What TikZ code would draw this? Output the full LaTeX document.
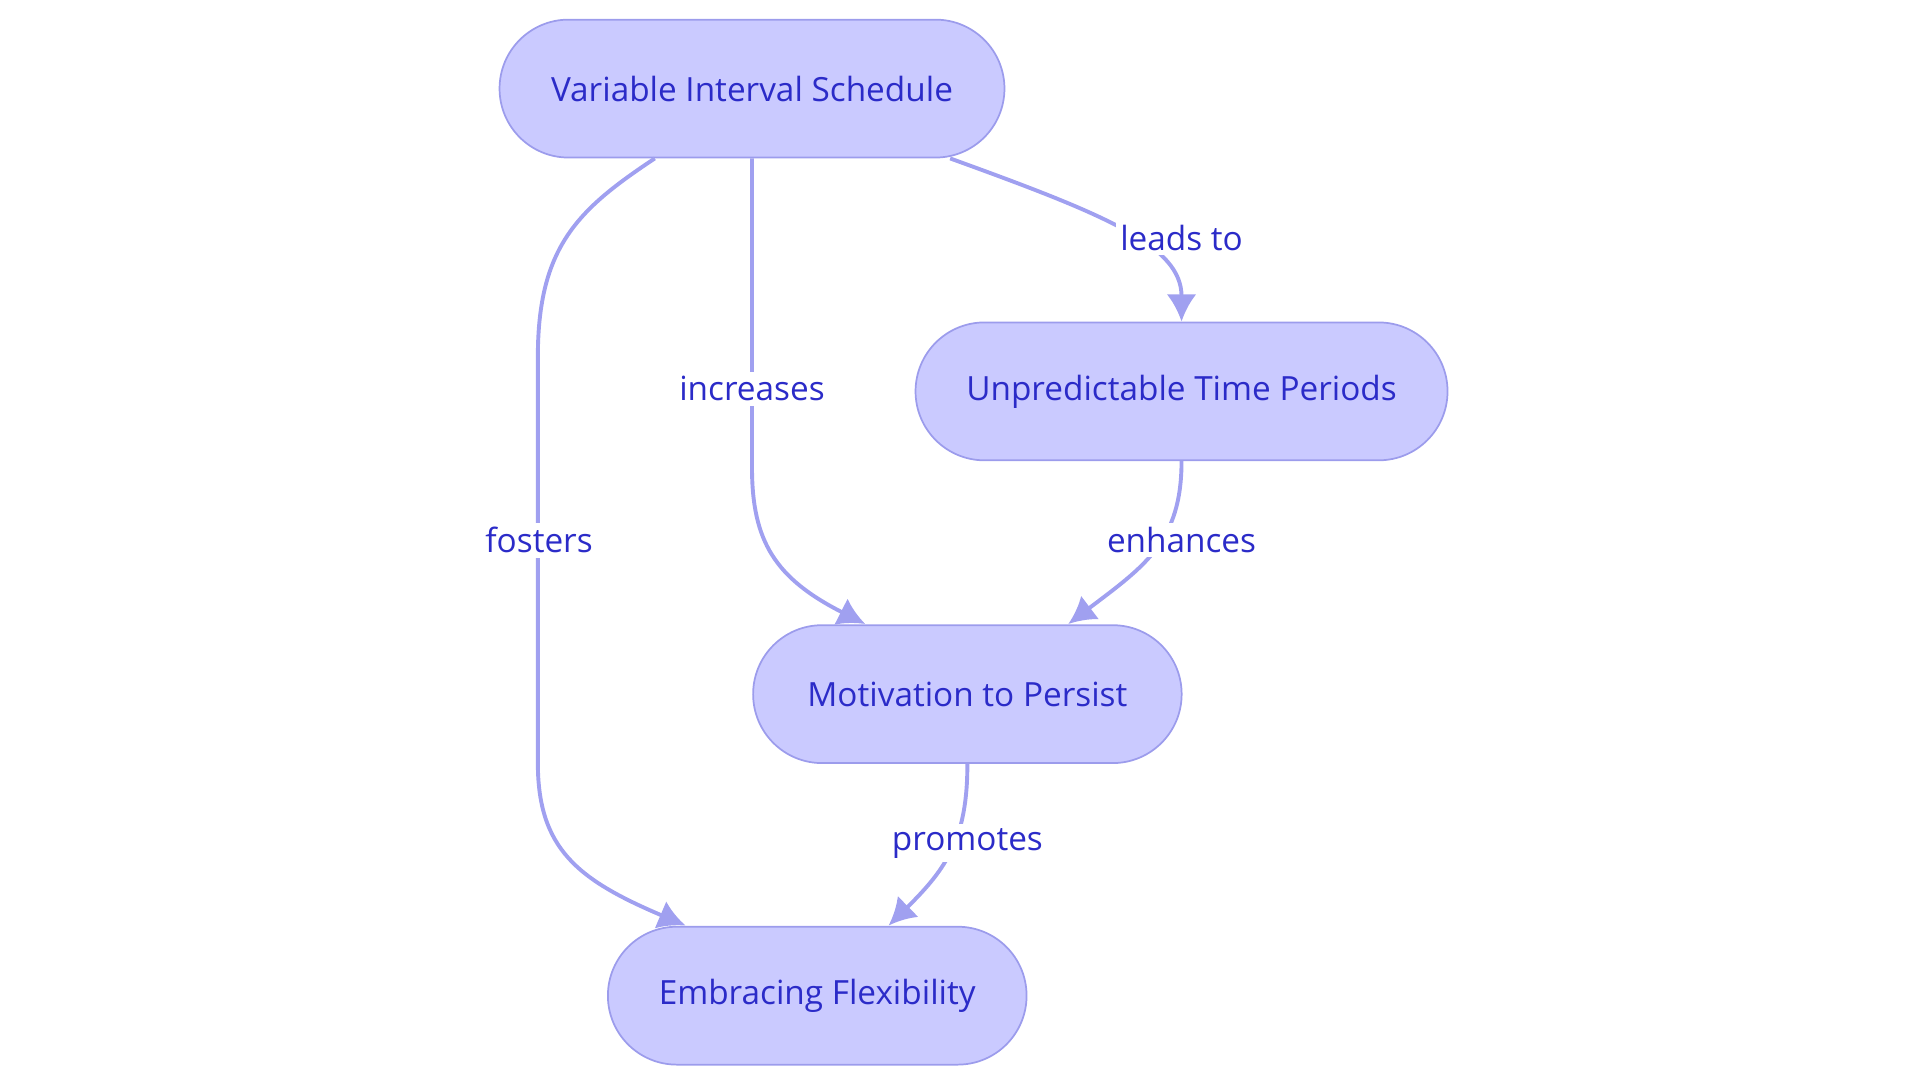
\documentclass[tikz,border=0pt]{standalone}
\usepackage{fontspec}
\setmainfont{Open Sans}
\usetikzlibrary{arrows.meta,positioning}
\definecolor{boxfill}{HTML}{CACAFF}
\definecolor{boxline}{HTML}{9C9CEC}
\definecolor{txt}{HTML}{2B2BC8}
\definecolor{edge}{HTML}{A0A0F0}
\tikzset{
  box/.style={rectangle,rounded corners=0.56cm,draw=boxline,fill=boxfill,text=txt,
    minimum height=1.12cm,font=\fontsize{7.7}{9}\selectfont},
  link/.style={draw=edge,line width=0.9pt,-{Latex[length=2.2mm,width=2.4mm]}},
  lbl/.style={fill=white,text=txt,inner sep=1pt,font=\fontsize{7.7}{9}\selectfont}
}
\begin{document}
\begin{tikzpicture}[x=0.01cm,y=-0.01cm]
\useasboundingbox (0,0) rectangle (1560,880);
\node[box,minimum width=4.1cm] (vis) at (611,72) {Variable Interval Schedule};
\node[box,minimum width=4.32cm] (utp) at (960,318) {Unpredictable Time Periods};
\node[box,minimum width=3.48cm] (mtp) at (786,564) {Motivation to Persist};
\node[box,minimum width=3.4cm] (ef) at (664,809) {Embracing Flexibility};

\draw[link] (vis.south) ++(-79,0) .. controls (470,170) and (437,200) .. (437,290) -- (437,620)
  .. controls (437,690) and (470,715) .. (557,752);
\draw[link] (vis.south) -- (611,380) .. controls (611,440) and (630,470) .. (703,507);
\draw[link] (vis.south) ++(161,0) .. controls (900,175) and (960,200) .. (utp.north);
\draw[link] (utp.south) .. controls (960,440) and (930,460) .. (868,507);
\draw[link] (mtp.south) .. controls (786,680) and (770,705) .. (722,752);

\node[lbl] (l1) at (438,439) {fosters};
\node[lbl] (l2) at (611,316) {increases};
\node[lbl] (l3) at (960,193) {leads to};
\node[lbl] (l4) at (960,439) {enhances};
\node[lbl] (l5) at (786,685) {promotes};
\end{tikzpicture}
\end{document}
